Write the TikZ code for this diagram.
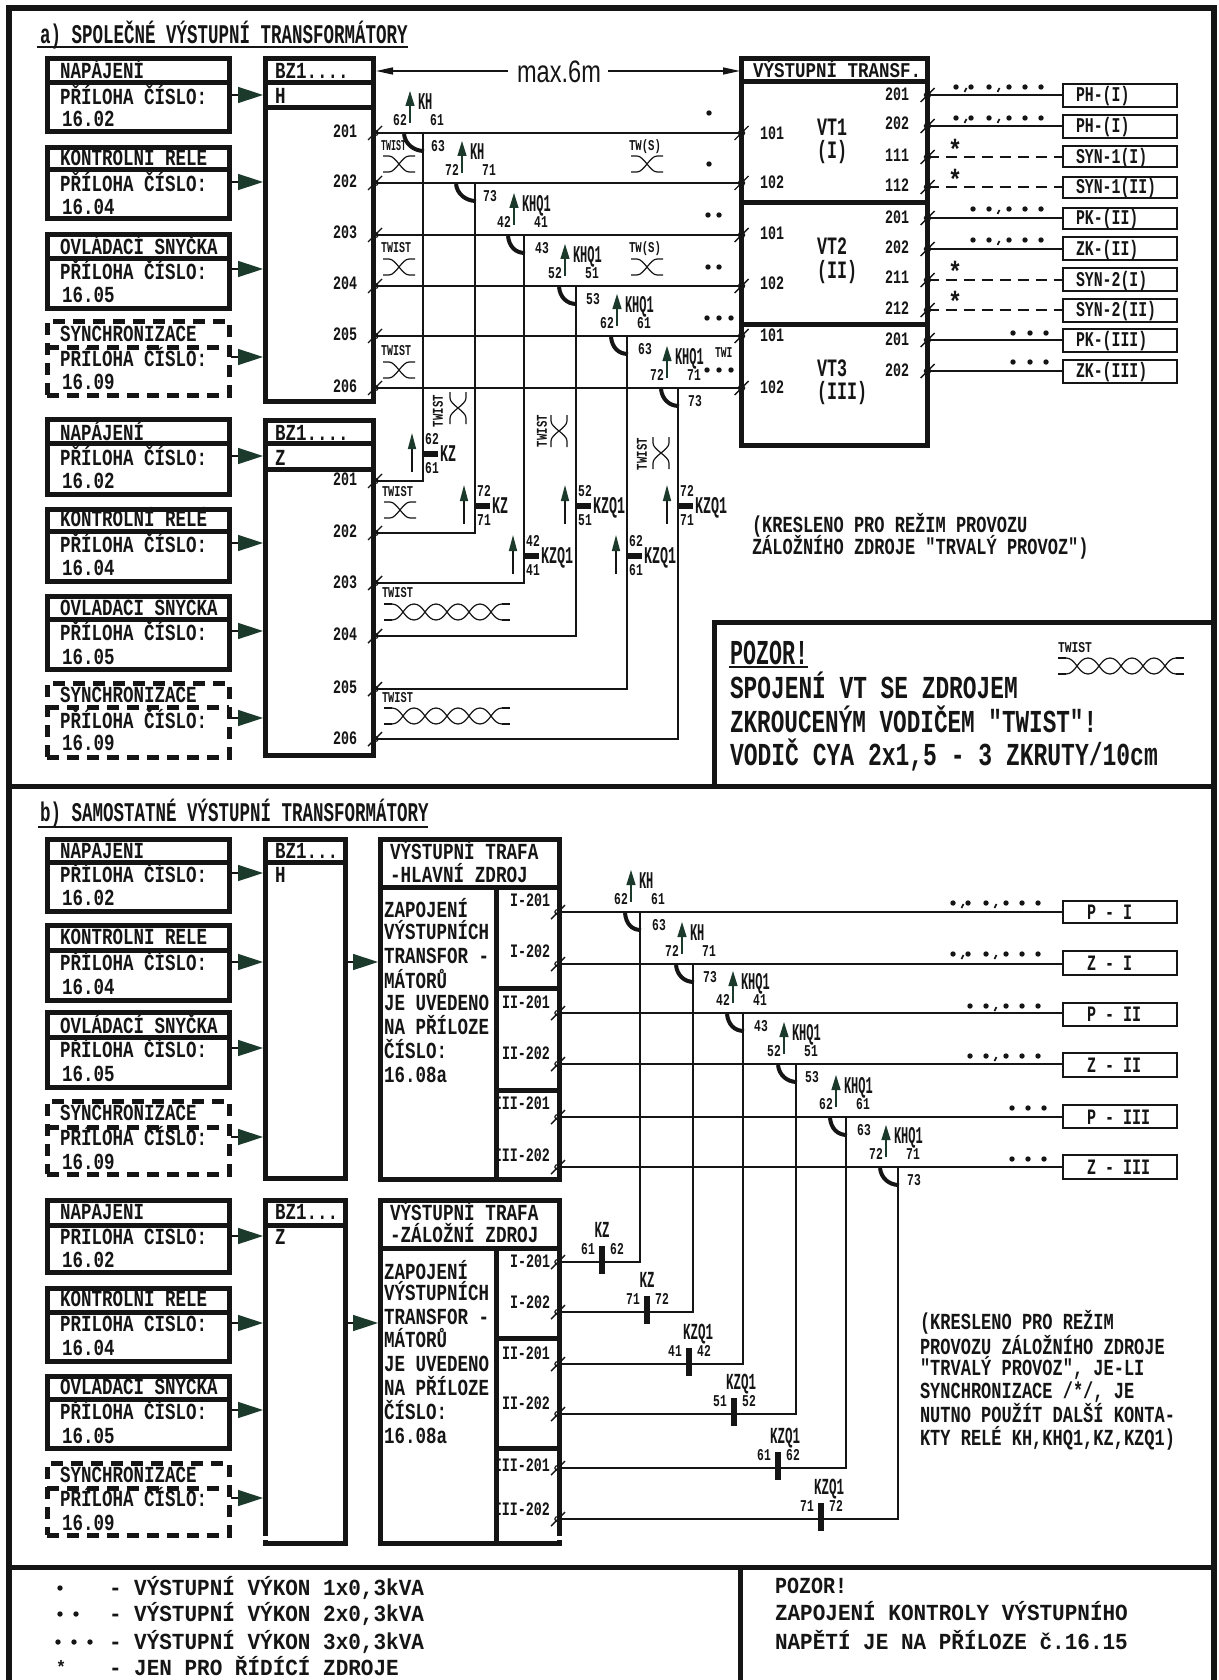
\documentclass[tikz,border=0pt]{standalone}
\usepackage{fontspec}
\usepackage{graphicx}
\usetikzlibrary{arrows.meta}
\newfontfamily\cadfam{Liberation Mono}
\newfontfamily\sansfam{Liberation Sans}
\definecolor{ink}{HTML}{151515}
\definecolor{arrg}{HTML}{1C3A2C}
\tikzset{
  txt/.style={inner sep=0pt,outer sep=0pt,text=ink},
  solidbox/.style={draw=ink,line width=5pt,inner sep=0pt,outer sep=0pt},
  dashbox/.style={draw=ink,line width=5pt,inner sep=0pt,outer sep=0pt,dash pattern=on 12pt off 8pt},
  thinbox/.style={draw=ink,line width=2pt,inner sep=0pt,outer sep=0pt},
  rule/.style={draw=ink,line width=5pt},
  dashrule/.style={draw=ink,line width=5pt,dash pattern=on 12pt off 8pt},
  wire/.style={draw=ink,line width=1.7pt},
  wireh/.style={draw=ink,line width=2.3pt},
  dashwire/.style={draw=ink,line width=1.8pt,dash pattern=on 11pt off 7pt},
  feed/.style={draw=ink,line width=1.5pt,-{Triangle[length=25pt,width=16pt,color=arrg,fill=arrg]}},
  sizearrow/.style={draw=ink,line width=1.5pt,-{Triangle[length=17pt,width=7pt,color=ink,fill=ink]}},
  ctarrow/.style={draw=arrg,line width=1.3pt,-{Triangle[length=15pt,width=9pt,color=arrg,fill=arrg]}},
  kzarrow/.style={draw=ink,line width=1.5pt,-{Triangle[length=16pt,width=8pt,color=arrg,fill=arrg]}},
  twistline/.style={draw=ink,line width=1.2pt},
  contactarc/.style={draw=ink,line width=4pt},
  contactbar/.style={draw=ink,line width=5.5pt},
}
\newcounter{txn}
% anchor, x, y, size, char width, text
\newcommand{\tx}[6][west]{\stepcounter{txn}\pgfmathsetmacro{\xsc}{#5/(0.6*#4)}%
  \node[txt,anchor=#1,text height={0.66*#4},text depth=0pt,font=\cadfam\bfseries\fontsize{#4}{#4}\selectfont] (t\arabic{txn}) at (#2,#3) {\scalebox{\xsc}[1]{#6}};}
\newcommand{\txr}[5]{\stepcounter{txn}\pgfmathsetmacro{\xsc}{#4/(0.6*#3)}%
  \node[txt,anchor=center,rotate=90,text height={0.66*#3},text depth=0pt,font=\cadfam\bfseries\fontsize{#3}{#3}\selectfont] (t\arabic{txn}) at (#1,#2) {\scalebox{\xsc}[1]{#5}};}
\newcommand{\lb}[3]{\tx{#1}{#2}{23}{10.5}{#3}}
\newcommand{\tn}[4][center]{\tx[#1]{#2}{#3}{19}{8}{#4}}
\newcommand{\cn}[3]{\tx[center]{#1}{#2}{16.5}{6.8}{#3}}
% style,x1,y1,x2,y2,name
\newcommand{\bxn}[6][solidbox]{\node[#1,minimum width={#4-#2},minimum height={#5-#3}] (#6) at ({(#2+#4)/2},{(#3+#5)/2}) {};}
% source box: style,name,y1,ydiv,y2,yarrow,xstart
\newcommand{\src}[7][solidbox]{\bxn[#1]{47}{#3}{229}{#5}{#2}
  \coordinate (#2s) at (#7,#6); \coordinate (#2e) at (263,#6);
  \draw[feed] (#2s) -- (#2e);}
\newcommand{\srct}[5]{\lb{60}{#2}{#1}\lb{60}{#3}{PŘÍLOHA ČÍSLO:}\lb{62}{#4}{#5}}
% terminal
\newcommand{\term}[3]{\coordinate (#1) at (#2,#3);
  \draw[draw=ink,line width=1.4pt] (#2-7,#3+7) -- (#2+7,#3-7);
  \draw[draw=ink,line width=1.1pt] (#2,#3) ellipse [x radius=3.2,y radius=2.6];}
% twist
\newcommand{\tw}[3][0]{\begin{scope}[shift={(#2,#3)},rotate=#1]
  \draw[twistline] (-16,-8) -- (-10,-8) .. controls (-3,-8) and (3,8) .. (10,8) -- (16,8);
  \draw[twistline] (-16,8) -- (-10,8) .. controls (-3,8) and (3,-8) .. (10,-8) -- (16,-8);
  \end{scope}}
\newcommand{\mtw}[2]{\begin{scope}[shift={(#1,#2)}]
  \draw[twistline] (0,-8) -- (8,-8) (0,8) -- (8,8) (118,-8) -- (126,-8) (118,8) -- (126,8);
  \foreach \i in {0,...,4}{
    \draw[twistline] (8+22*\i,-8) .. controls (18+22*\i,-8) and (20+22*\i,8) .. (30+22*\i,8);
    \draw[twistline] (8+22*\i,8) .. controls (18+22*\i,8) and (20+22*\i,-8) .. (30+22*\i,-8);}
  \end{scope}}
\newcommand{\dts}[2]{\foreach \dx in {#2}{\fill[ink] (\dx,#1) circle [radius=2.7];}}
\newcommand{\cma}[2]{\draw[draw=ink,line width=1.7pt] (#1+.5,#2+1) -- (#1-1.5,#2+5);}
\newcommand{\dotA}[2]{\dts{#2}{#1+4,#1+19,#1+37,#1+57,#1+73,#1+89}\cma{#1+14}{#2}\cma{#1+47}{#2}}
\newcommand{\dotB}[2]{\dts{#2}{#1+21,#1+37,#1+57,#1+73,#1+89}\cma{#1+47}{#2}}
\newcommand{\dotC}[1]{\dts{#1}{1013,1030,1046}}
% contact above a wire: arrow x, line y, vertical x, label 1,2,3, text
\newcommand{\ctop}[7]{%
  \draw[ctarrow] (#1,#2-10) -- (#1,#2-42);
  \cn{#1-10}{#2-13}{#4}\cn{#1+27}{#2-13}{#5}
  \tx{#1+8}{#2-31}{24}{7.2}{#7}
  \draw[contactarc] (#1-6,#2+1) .. controls (#1-5,#2+11) and (#3-9,#2+18) .. (#3+1,#2+18);
  \cn{#1+28}{#2+13}{#6}}
% KZ contact in the vertical wires: x, y, top num, bottom num, label
\newcommand{\kzv}[5]{%
  \draw[kzarrow] (#1-11,#2+18) -- (#1-11,#2-21);
  \draw[contactbar] (#1,#2) -- (#1+15,#2);
  \cn{#1+9}{#2-15}{#3}\cn{#1+9}{#2+14}{#4}
  \tx{#1+17}{#2}{24}{8}{#5}}
% bar in the horizontal wires: x, line y, left, right, label x, label
\newcommand{\kbar}[6]{%
  \draw[contactbar] (#1,#2-16) -- (#1,#2+12);
  \cn{#1-14}{#2-13}{#3}\cn{#1+15}{#2-13}{#4}
  \tx[center]{#5}{#2-32}{23}{7.5}{#6}}
\begin{document}
\begin{tikzpicture}[x=1pt,y=-1pt]
\fill[white] (0,0) rectangle (1218,1680);
\useasboundingbox (0,0) rectangle (1218,1680);
% frame
\draw[rule,line width=5.5pt] (9,1680) -- (9,8) -- (1214,8) -- (1214,1680);
\draw[rule] (9,786) -- (1214,786);
\draw[rule] (9,1567) -- (1214,1567);
\draw[rule] (740,1567) -- (740,1680);
\draw[rule] (714,786) -- (714,622) -- (1214,622);
% ---------- a ----------
\tx{40}{35}{27}{10.5}{a) SPOLEČNÉ VÝSTUPNÍ TRANSFORMÁTORY}
\draw[draw=ink,line width=2pt] (37,47) -- (408,47);
% source boxes
\src{s1}{59}{83}{132}{95}{231}\draw[rule] (47,83) -- (229,83);
\srct{NAPÁJENÍ}{71}{97}{119}{16.02}
\src{s2}{148}{170}{219}{182}{231}\draw[rule] (47,170) -- (229,170);
\srct{KONTROLNÍ RELÉ}{158}{184}{207}{16.04}
\src{s3}{235}{259}{308}{269}{231}\draw[rule] (47,259) -- (229,259);
\srct{OVLÁDACÍ SNYČKA}{247}{272}{295}{16.05}
\src[dashbox]{s4}{321}{347}{395}{357}{231}\draw[dashrule] (47,347) -- (229,347);
\srct{SYNCHRONIZACE}{334}{359}{382}{16.09}
\src{s5}{419}{443}{494}{456}{231}\draw[rule] (47,443) -- (229,443);
\srct{NAPÁJENÍ}{433}{458}{481}{16.02}
\src{s6}{509}{531}{581}{543}{231}\draw[rule] (47,531) -- (229,531);
\srct{KONTROLNÍ RELÉ}{519}{545}{568}{16.04}
\src{s7}{596}{619}{669}{631}{231}\draw[rule] (47,619) -- (229,619);
\srct{OVLÁDACÍ SNYČKA}{608}{633}{657}{16.05}
\src[dashbox]{s8}{683}{707}{757}{718}{231}\draw[dashrule] (47,707) -- (229,707);
\srct{SYNCHRONIZACE}{695}{721}{743}{16.09}
% BZ boxes
\bxn{265}{59}{373}{401}{bz1}
\draw[rule] (265,83) -- (373,83) (265,108) -- (373,108);
\tx{275}{71}{23}{10.5}{BZ1....}\tx{275}{96}{23}{10.5}{H}
\bxn{265}{420}{373}{755}{bz2}
\draw[rule] (265,443) -- (373,443) (265,469) -- (373,469);
\tx{275}{433}{23}{10.5}{BZ1....}\tx{275}{458}{23}{10.5}{Z}
% size arrow
\node[txt,font=\sansfam\fontsize{31}{31}\selectfont,anchor=center] (maxsix) at (559,72) {\scalebox{.76}[1]{max.6m}};
\coordinate (ml) at (376,71); \coordinate (mr) at (740,71);
\draw[sizearrow] (508,71) -- (ml);
\draw[sizearrow] (608,71) -- (mr);
% VT box
\bxn{741.5}{58.5}{927.5}{445}{vt}
\draw[rule] (741.5,82) -- (927.5,82) (741.5,203) -- (927.5,203) (741.5,324) -- (927.5,324);
\tx{753}{71}{21}{10.5}{VÝSTUPNÍ TRANSF.}
\tx{817}{127}{25}{10}{VT1}\tx{817}{150}{25}{10}{(I)}
\tx{817}{246}{25}{10}{VT2}\tx{817}{270}{25}{10}{(II)}
\tx{817}{368}{25}{10}{VT3}\tx{817}{391}{25}{10}{(III)}
% terminals a-upper
\term{au1}{375}{133}\term{au2}{375}{183}\term{au3}{375}{235}\term{au4}{375}{286}\term{au5}{375}{336}\term{au6}{375}{388}
\term{vl1}{741.5}{133}\term{vl2}{741.5}{183}\term{vl3}{741.5}{235}\term{vl4}{741.5}{286}\term{vl5}{741.5}{336}\term{vl6}{741.5}{388}
\draw[wire] (au1) -- (vl1); \draw[wire] (au2) -- (vl2); \draw[wireh] (au3) -- (vl3);
\draw[wire] (au4) -- (vl4); \draw[wire] (au5) -- (vl5); \draw[wire] (au6) -- (vl6);
\tn{345}{131}{201}\tn{345}{181}{202}\tn{345}{232}{203}\tn{345}{283}{204}\tn{345}{334}{205}\tn{345}{386}{206}
\tn[west]{760}{133}{101}\tn[west]{760}{182}{102}\tn[west]{760}{233}{101}\tn[west]{760}{283}{102}\tn[west]{760}{335}{101}\tn[west]{760}{387}{102}
% right terminals
\foreach \nm/\yy in {vr1/95,vr2/126,vr3/157,vr4/187,vr5/218,vr6/249,vr7/280,vr8/310,vr9/340,vr10/371}{\term{\nm}{927.5}{\yy}}
\tn{897}{94}{201}\tn{897}{123}{202}\tn{897}{155}{111}\tn{897}{185}{112}\tn{897}{217}{201}
\tn{897}{247}{202}\tn{897}{277}{211}\tn{897}{308}{212}\tn{897}{339}{201}\tn{897}{370}{202}
% output boxes
\bxn[thinbox]{1063}{84}{1177}{107}{o1} \bxn[thinbox]{1063}{115}{1177}{138}{o2}
\bxn[thinbox]{1063}{146}{1177}{167}{o3} \bxn[thinbox]{1063}{177}{1177}{198}{o4}
\bxn[thinbox]{1063}{208}{1177}{229}{o5} \bxn[thinbox]{1063}{237}{1177}{260}{o6}
\bxn[thinbox]{1063}{268}{1177}{291}{o7} \bxn[thinbox]{1063}{299}{1177}{322}{o8}
\bxn[thinbox]{1063}{329}{1177}{352}{o9} \bxn[thinbox]{1063}{360}{1177}{383}{o10}
\draw[wireh] (vr1) -- (vr1 -| o1.west); \draw[wireh] (vr2) -- (vr2 -| o2.west);
\draw[dashwire] (vr3) -- (vr3 -| o3.west); \draw[dashwire] (vr4) -- (vr4 -| o4.west);
\draw[wireh] (vr5) -- (vr5 -| o5.west); \draw[wireh] (vr6) -- (vr6 -| o6.west);
\draw[dashwire] (vr7) -- (vr7 -| o7.west); \draw[dashwire] (vr8) -- (vr8 -| o8.west);
\draw[wireh] (vr9) -- (vr9 -| o9.west); \draw[wireh] (vr10) -- (vr10 -| o10.west);
\foreach \yy/\ss in {95/PH-(I),126/PH-(I),157/SYN-1(I),187/SYN-1(II),218/PK-(II),249/ZK-(II),280/SYN-2(I),310/SYN-2(II),340/PK-(III),371/ZK-(III)}{\tx{1076}{\yy}{21}{8.9}{\ss}}
\dotA{952}{87}\dotA{952}{118}\dotB{952}{209}\dotB{952}{240}\dotC{333}\dotC{362}
\tx[center]{955}{150}{28}{14}{*}\tx[center]{955}{180}{28}{14}{*}\tx[center]{955}{272}{28}{14}{*}\tx[center]{955}{302}{28}{14}{*}
\dts{113}{709}\dts{164}{709}\dts{215}{708,719}\dts{267}{708,719}\dts{318}{707,719,731}\dts{370}{707,719,731}
\tx{715}{353}{15}{5.8}{TWI}
% contacts
\ctop{410}{133}{423}{62}{61}{63}{KH}
\ctop{462}{183}{475}{72}{71}{73}{KH}
\ctop{514}{235}{524}{42}{41}{43}{KHQ1}
\ctop{565}{286}{575.5}{52}{51}{53}{KHQ1}
\ctop{617}{336}{627}{62}{61}{63}{KHQ1}
\ctop{667}{388}{678}{72}{71}{73}{KHQ1}
% lower a terminals
\term{az1}{375}{481}\term{az2}{375}{533}\term{az3}{375}{583}\term{az4}{375}{636}\term{az5}{375}{689}\term{az6}{375}{739}
\tn{345}{479}{201}\tn{345}{531}{202}\tn{345}{582}{203}\tn{345}{634}{204}\tn{345}{687}{205}\tn{345}{738}{206}
\coordinate (aj1) at (423,133);\coordinate (aj2) at (475,183);\coordinate (aj3) at (524,235);
\coordinate (aj4) at (576,286);\coordinate (aj5) at (627,336);\coordinate (aj6) at (678,388);
\draw[wire] (az1) -| (aj1); \draw[wire] (az2) -| (aj2); \draw[wireh] (az3) -| (aj3);
\draw[wire] (az4) -| (aj4); \draw[wire] (az5) -| (aj5); \draw[wire] (az6) -| (aj6);
\kzv{423}{454}{62}{61}{KZ}\kzv{475}{506}{72}{71}{KZ}\kzv{524}{556}{42}{41}{KZQ1}
\kzv{576}{506}{52}{51}{KZQ1}\kzv{627}{556}{62}{61}{KZQ1}\kzv{678}{506}{72}{71}{KZQ1}
% twists
\tw{399}{164}\tx{381}{146}{15}{5}{TWIST}
\tw{399}{267}\tx{381}{248}{15}{6}{TWIST}
\tw{399}{370}\tx{381}{351}{15}{6}{TWIST}
\tw{647}{164}\tx{629}{146}{15}{6.4}{TW(S)}
\tw{647}{267}\tx{629}{248}{15}{6.4}{TW(S)}
\tw[90]{458}{408}\txr{438}{411}{15}{6.4}{TWIST}
\tw[90]{559}{431}\txr{542}{431}{15}{6.4}{TWIST}
\tw[90]{661}{453}\txr{642}{454}{15}{6.4}{TWIST}
\tw{400}{510}\tx{382}{492}{15}{6.2}{TWIST}
\mtw{384}{612}\tx{382}{593}{15}{6.2}{TWIST}
\mtw{384}{716}\tx{382}{698}{15}{6.2}{TWIST}
% notes
\tx{752}{525}{23}{10.2}{(KRESLENO PRO REŽIM PROVOZU}
\tx{752}{547}{23}{10.2}{ZÁLOŽNÍHO ZDROJE "TRVALÝ PROVOZ")}
\tx{730}{653}{35}{13}{POZOR!}
\draw[draw=ink,line width=1.6pt] (729,667) -- (808,667);
\tx{730}{688}{32}{13.7}{SPOJENÍ VT SE ZDROJEM}
\tx{730}{722}{32}{13.6}{ZKROUCENÝM VODIČEM "TWIST"!}
\tx{730}{755}{32}{13.8}{VODIČ CYA 2x1,5 - 3 ZKRUTY/10cm}
\mtw{1058}{666}\tx{1058}{648}{15}{6.8}{TWIST}
% ---------- b ----------
\tx{40}{813}{27}{10.5}{b) SAMOSTATNÉ VÝSTUPNÍ TRANSFORMÁTORY}
\draw[draw=ink,line width=2pt] (38,827) -- (428,827);
\src{s9}{839}{862}{911}{873}{231}\draw[rule] (47,862) -- (229,862);
\srct{NAPÁJENÍ}{851}{875}{898}{16.02}
\src{s10}{925}{950}{1000}{962}{231}\draw[rule] (47,950) -- (229,950);
\srct{KONTROLNÍ RELÉ}{937}{963}{987}{16.04}
\src{s11}{1012}{1037}{1087}{1048}{231}\draw[rule] (47,1037) -- (229,1037);
\srct{OVLÁDACÍ SNYČKA}{1026}{1050}{1074}{16.05}
\src[dashbox]{s12}{1101}{1127}{1174}{1137}{231}\draw[dashrule] (47,1127) -- (229,1127);
\srct{SYNCHRONIZACE}{1113}{1138}{1162}{16.09}
\src{s13}{1200}{1225}{1272}{1236}{231}\draw[rule] (47,1225) -- (229,1225);
\srct{NAPÁJENÍ}{1212}{1237}{1260}{16.02}
\src{s14}{1288}{1312}{1361}{1323}{231}\draw[rule] (47,1312) -- (229,1312);
\srct{KONTROLNÍ RELÉ}{1299}{1324}{1348}{16.04}
\src{s15}{1376}{1399}{1448}{1410}{231}\draw[rule] (47,1399) -- (229,1399);
\srct{OVLÁDACÍ SNYČKA}{1387}{1412}{1436}{16.05}
\src[dashbox]{s16}{1463}{1488}{1535}{1498}{231}\draw[dashrule] (47,1488) -- (229,1488);
\srct{SYNCHRONIZACE}{1475}{1499}{1523}{16.09}
% BZ b
\bxn{265}{839}{345}{1178}{bz3}
\draw[rule] (265,862) -- (345,862);
\tx{275}{851}{23}{10.5}{BZ1...}\tx{275}{875}{23}{10.5}{H}
\bxn{265}{1200}{345}{1543}{bz4}
\draw[rule] (265,1225) -- (345,1225);
\tx{275}{1212}{23}{10.5}{BZ1...}\tx{275}{1237}{23}{10.5}{Z}
\fill[white] (261,1535.5) rectangle (268,1540);
% transformer boxes
\bxn{380}{839}{559}{1179}{tr1}
\draw[rule] (380,887) -- (559,887) (496,887) -- (496,1179) (496,988) -- (559,988) (496,1090) -- (559,1090);
\coordinate (fa) at (348,962); \coordinate (fb) at (378,962); \draw[feed] (fa) -- (fb);
\bxn{380}{1200}{559}{1543}{tr2}
\draw[rule] (380,1248) -- (559,1248) (496,1248) -- (496,1543) (496,1338) -- (559,1338) (496,1448) -- (559,1448);
\fill[white] (556,1535.5) rectangle (563,1540);
\coordinate (fc) at (348,1323); \coordinate (fd) at (378,1323); \draw[feed] (fc) -- (fd);
\tx{390}{852}{23}{10.6}{VÝSTUPNÍ TRAFA}\tx{390}{875}{23}{10.6}{-HLAVNÍ ZDROJ}
\tx{390}{1213}{23}{10.6}{VÝSTUPNÍ TRAFA}\tx{390}{1235}{23}{10.6}{-ZÁLOŽNÍ ZDROJ}
\foreach \yy/\ss in {910/ZAPOJENÍ,932/VÝSTUPNÍCH,956/TRANSFOR -,981/MÁTORŮ,1003/JE UVEDENO,1027/NA PŘÍLOZE,1051/ČÍSLO:,1075/16.08a,1272/ZAPOJENÍ,1293/VÝSTUPNÍCH,1317/TRANSFOR -,1340/MÁTORŮ,1364/JE UVEDENO,1388/NA PŘÍLOZE,1412/ČÍSLO:,1436/16.08a}{\tx{384}{\yy}{23}{10.5}{\ss}}
% b terminals
\foreach \nm/\yy in {bu1/912,bu2/964,bu3/1013,bu4/1064,bu5/1117,bu6/1167,bl1/1262,bl2/1312,bl3/1364,bl4/1414,bl5/1468,bl6/1519}{\term{\nm}{558}{\yy}}
\foreach \yy/\ss in {900/I-201,951/I-202,1002/II-201,1053/II-202,1103/III-201,1155/III-202,1261/I-201,1302/I-202,1353/II-201,1403/II-202,1465/III-201,1509/III-202}{\tn[east]{550}{\yy}{\ss}}
% outputs b
\bxn[thinbox]{1063}{901}{1177}{923}{p1}\bxn[thinbox]{1063}{951}{1177}{975}{p2}
\bxn[thinbox]{1063}{1003}{1177}{1026}{p3}\bxn[thinbox]{1063}{1053}{1177}{1077}{p4}
\bxn[thinbox]{1063}{1105}{1177}{1128}{p5}\bxn[thinbox]{1063}{1155}{1177}{1179}{p6}
\draw[wire] (bu1) -- (bu1 -| p1.west);\draw[wire] (bu2) -- (bu2 -| p2.west);
\draw[wire] (bu3) -- (bu3 -| p3.west);\draw[wire] (bu4) -- (bu4 -| p4.west);
\draw[wire] (bu5) -- (bu5 -| p5.west);\draw[wire] (bu6) -- (bu6 -| p6.west);
\foreach \yy/\ss in {912/P - I,963/Z - I,1014/P - II,1065/Z - II,1117/P - III,1167/Z - III}{\tx{1087}{\yy}{22}{9}{\ss}}
\dotA{949}{903}\dotA{949}{954}\dotB{949}{1006}\dotB{949}{1056}\dts{1108}{1012,1028,1044}\dts{1159}{1012,1028,1044}
% contacts b
\ctop{631}{912}{640}{62}{61}{63}{KH}
\ctop{682}{964}{693}{72}{71}{73}{KH}
\ctop{733}{1013}{743}{42}{41}{43}{KHQ1}
\ctop{784}{1064}{796}{52}{51}{53}{KHQ1}
\ctop{836}{1117}{846}{62}{61}{63}{KHQ1}
\ctop{886}{1167}{898}{72}{71}{73}{KHQ1}
\coordinate (bj1) at (640,912);\coordinate (bj2) at (693,964);\coordinate (bj3) at (743,1013);
\coordinate (bj4) at (796,1064);\coordinate (bj5) at (846,1117);\coordinate (bj6) at (898,1167);
\draw[wireh] (bl1) -| (bj1);\draw[wire] (bl2) -| (bj2);\draw[wire] (bl3) -| (bj3);
\draw[wire] (bl4) -| (bj4);\draw[wire] (bl5) -| (bj5);\draw[wire] (bl6) -| (bj6);
\kbar{602}{1262}{61}{62}{602}{KZ}
\kbar{647}{1312}{71}{72}{647}{KZ}
\kbar{689}{1364}{41}{42}{698}{KZQ1}
\kbar{734}{1414}{51}{52}{741}{KZQ1}
\kbar{778}{1468}{61}{62}{785}{KZQ1}
\kbar{821}{1519}{71}{72}{829}{KZQ1}
% note b
\tx{920}{1322}{23}{10.2}{(KRESLENO PRO REŽIM}
\tx{920}{1347}{23}{10.2}{PROVOZU ZÁLOŽNÍHO ZDROJE}
\tx{920}{1368}{23}{10.2}{"TRVALÝ PROVOZ", JE-LI}
\tx{920}{1391}{23}{10.2}{SYNCHRONIZACE /*/, JE}
\tx{920}{1415}{23}{10.2}{NUTNO POUŽÍT DALŠÍ KONTA-}
\tx{920}{1438}{23}{10.2}{KTY RELÉ KH,KHQ1,KZ,KZQ1)}
% bottom
\dts{1588}{60}\dts{1614}{60,76}\dts{1642}{58,74,90}
\tx[center]{61}{1668}{18}{10}{*}
\tx{109}{1588}{23}{12.6}{- VÝSTUPNÍ VÝKON 1x0,3kVA}
\tx{109}{1614}{23}{12.6}{- VÝSTUPNÍ VÝKON 2x0,3kVA}
\tx{109}{1642}{23}{12.6}{- VÝSTUPNÍ VÝKON 3x0,3kVA}
\tx{109}{1668}{23}{12.6}{- JEN PRO ŘÍDÍCÍ ZDROJE}
\tx{775}{1586}{23}{12}{POZOR!}
\tx{775}{1613}{23}{12.6}{ZAPOJENÍ KONTROLY VÝSTUPNÍHO}
\tx{775}{1642}{23}{12.6}{NAPĚTÍ JE NA PŘÍLOZE č.16.15}
\end{tikzpicture}
\end{document}
